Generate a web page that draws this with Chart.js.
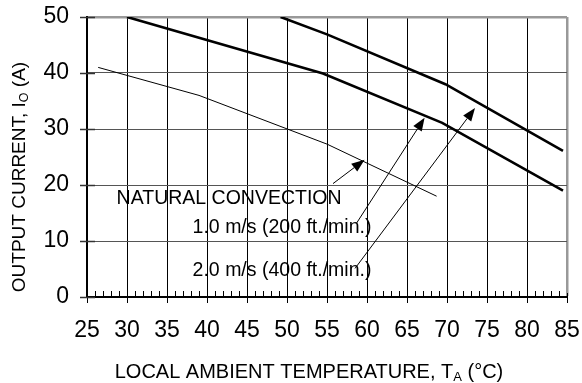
<!DOCTYPE html>
<html>
<head>
<meta charset="utf-8">
<script src="https://cdn.jsdelivr.net/npm/chart.js@4.4.1/dist/chart.umd.min.js"></script>
<style>
  html, body { margin: 0; padding: 0; background: #fff; }
  #wrap { width: 582px; height: 383px; position: relative; }
</style>
</head>
<body>
<div id="wrap"><canvas id="derating"></canvas></div>
<script>
// derating curves
const tempNatural = [26.4, 39, 55, 68.7];
const currNatural = [41, 36, 27.3, 18];

const temp1ms = [30, 54.5, 69.4, 84.5];
const curr1ms = [50, 39.9, 31.1, 19];

const temp2ms = [49.2, 55, 69.8, 84.5];
const curr2ms = [50, 46.9, 38, 26.1];

const xTicks = [25, 30, 35, 40, 45, 50, 55, 60, 65, 70, 75, 80, 85];
const yTicks = [0, 10, 20, 30, 40, 50];

const seriesNames = ['NATURAL CONVECTION', '1.0 m/s (200 ft./min.)', '2.0 m/s (400 ft./min.)'];

// where the labels/arrows sit (data units)
const labelPos = [[28.7, 17.6], [38.2, 12.3], [38.2, 4.65]];
const arrowTail = [[55.75, 20.25], [58.7, 13.2], [58.5, 5.1]];
const arrowTip = [[59.7, 24.5], [67.2, 32.0], [73.5, 33.75]];

const FONT = '"Liberation Sans", Arial, sans-serif';

function pts(xs, ys) {
  return xs.map((x, i) => ({x: x, y: ys[i]}));
}

// ticks crossing the axes, minor ticks, titles and the arrow notes
const extras = {
  id: 'extras',
  afterDatasetsDraw(chart) {
    const ctx = chart.ctx;
    const xs = chart.scales.x, ys = chart.scales.y;
    const a = chart.chartArea;
    ctx.save();

    ctx.strokeStyle = '#000';
    ctx.lineWidth = 1;
    // minor ticks on x axis
    for (let v = 26; v < 85; v++) {
      if (v % 5 === 0) continue;
      const px = Math.round(xs.getPixelForValue(v)) + 0.5;
      ctx.beginPath();
      ctx.moveTo(px, a.bottom);
      ctx.lineTo(px, a.bottom - 6);
      ctx.stroke();
    }
    // major x ticks
    xTicks.forEach(v => {
      const px = Math.round(xs.getPixelForValue(v)) + 0.5;
      ctx.beginPath();
      ctx.moveTo(px, a.bottom - 4);
      ctx.lineTo(px, a.bottom + 6);
      ctx.stroke();
    });
    // y ticks
    ctx.strokeStyle = '#333';
    ctx.lineWidth = 1.5;
    yTicks.forEach(v => {
      const py = Math.round(ys.getPixelForValue(v)) + 0.5;
      ctx.beginPath();
      ctx.moveTo(a.left - 7, py);
      ctx.lineTo(a.left + 8, py);
      ctx.stroke();
    });

    // series notes
    ctx.fillStyle = '#000';
    ctx.font = '19.5px ' + FONT;
    ctx.textBaseline = 'middle';
    ctx.textAlign = 'left';
    seriesNames.forEach((s, i) => {
      ctx.fillText(s, xs.getPixelForValue(labelPos[i][0]), ys.getPixelForValue(labelPos[i][1]));
    });

    // arrows
    ctx.strokeStyle = '#000';
    ctx.lineWidth = 1;
    arrowTail.forEach((t, i) => {
      const x0 = xs.getPixelForValue(t[0]), y0 = ys.getPixelForValue(t[1]);
      const x1 = xs.getPixelForValue(arrowTip[i][0]), y1 = ys.getPixelForValue(arrowTip[i][1]);
      const ang = Math.atan2(y1 - y0, x1 - x0);
      const len = 13, half = 5;
      const bx = x1 - len * Math.cos(ang), by = y1 - len * Math.sin(ang);
      ctx.beginPath();
      ctx.moveTo(x0, y0);
      ctx.lineTo(bx, by);
      ctx.stroke();
      ctx.beginPath();
      ctx.moveTo(x1, y1);
      ctx.lineTo(bx + half * Math.sin(ang), by - half * Math.cos(ang));
      ctx.lineTo(bx - half * Math.sin(ang), by + half * Math.cos(ang));
      ctx.closePath();
      ctx.fill();
    });

    // titles with subscripts
    function subText(parts, x, y) {
      // parts: [text, size, dy]
      let w = 0;
      parts.forEach(p => { ctx.font = p[1] + 'px ' + FONT; w += ctx.measureText(p[0]).width; });
      let cx = x - w / 2;
      parts.forEach(p => {
        ctx.font = p[1] + 'px ' + FONT;
        ctx.fillText(p[0], cx, y + p[2]);
        cx += ctx.measureText(p[0]).width;
      });
    }
    ctx.textBaseline = 'alphabetic';
    ctx.textAlign = 'left';
    subText([['LOCAL AMBIENT TEMPERATURE, T', 20, 0], ['A', 13, 3], [' (\u00B0C)', 20, 0]], 309, 378);

    ctx.save();
    ctx.translate(25, 177);
    ctx.rotate(-Math.PI / 2);
    subText([['OUTPUT CURRENT, I', 19, 0], ['O', 12.5, 3], [' (A)', 19, 0]], 0, 0);
    ctx.restore();

    ctx.restore();
  }
};

const chart = new Chart(document.getElementById('derating'), {
  type: 'line',
  data: {
    datasets: [
      { label: seriesNames[0], data: pts(tempNatural, currNatural), borderColor: '#000', borderWidth: 1, pointRadius: 0 },
      { label: seriesNames[1], data: pts(temp1ms, curr1ms), borderColor: '#000', borderWidth: 2.6, pointRadius: 0 },
      { label: seriesNames[2], data: pts(temp2ms, curr2ms), borderColor: '#000', borderWidth: 2.6, pointRadius: 0 }
    ]
  },
  options: {
    responsive: true,
    maintainAspectRatio: false,
    animation: false,
    layout: { padding: { top: 17, right: 15, left: 0, bottom: 0 } },
    plugins: { legend: { display: false }, tooltip: { enabled: false } },
    scales: {
      x: {
        type: 'linear', min: 25, max: 85,
        afterBuildTicks: s => { s.ticks = xTicks.map(v => ({value: v})); },
        afterFit: s => { s.height = 86; s.paddingLeft = 0; s.paddingRight = 0; },
        ticks: { color: '#000', font: { family: FONT, size: 23 }, padding: 20, maxRotation: 0, autoSkip: false },
        grid: {
          drawTicks: false,
          color: c => c.tick && c.tick.value === 85 ? '#999' : '#000',
          lineWidth: c => c.tick && c.tick.value === 85 ? 2.5 : 1
        },
        border: { color: '#000', width: 2 }
      },
      y: {
        min: 0, max: 50,
        afterBuildTicks: s => { s.ticks = yTicks.map(v => ({value: v})); },
        afterFit: s => { s.width = 87; s.paddingTop = 0; s.paddingBottom = 0; },
        ticks: { color: '#000', font: { family: FONT, size: 23 }, padding: 18 },
        grid: {
          drawTicks: false,
          color: c => c.tick && c.tick.value === 50 ? '#999' : '#555',
          lineWidth: c => c.tick && c.tick.value === 50 ? 2.5 : 1
        },
        border: { color: '#000', width: 2 }
      }
    }
  },
  plugins: [extras]
});
</script>
</body>
</html>
